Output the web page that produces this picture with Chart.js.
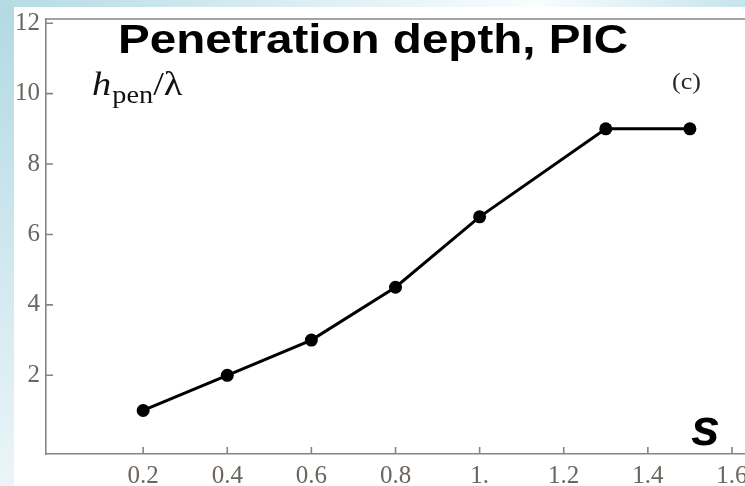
<!DOCTYPE html>
<html>
<head>
<meta charset="utf-8">
<title>Penetration depth, PIC</title>
<script src="https://cdn.jsdelivr.net/npm/chart.js@4/dist/chart.umd.min.js"></script>
<style>
  html, body { margin: 0; padding: 0; background: #fff; }
  #wrap { width: 745px; height: 486px; position: relative; }
</style>
</head>
<body>
<div id="wrap"><canvas id="depthChart" width="745" height="486"></canvas></div>
<script>
// PIC results: penetration depth vs s
const sValues = [0.2, 0.4, 0.6, 0.8, 1.0, 1.3, 1.5];
const depthValues = [1, 2, 3, 4.5, 6.5, 9, 9];
const xTickValues = [0.2, 0.4, 0.6, 0.8, 1.0, 1.2, 1.4, 1.6];
const yTickValues = [2, 4, 6, 8, 10, 12];

const axisGray = '#858585';
const labelColor = '#6b655e';

// slide background + white panel, frame line on top and inward tick marks
const decorations = {
    id: 'decorations',
    beforeDraw(chart) {
        const ctx = chart.ctx;
        const W = chart.width, H = chart.height;
        ctx.save();
        ctx.fillStyle = '#fff';
        ctx.fillRect(0, 0, W, H);
        let g = ctx.createLinearGradient(0, 0, W, 0);
        g.addColorStop(0, '#b5dbe5');
        g.addColorStop(0.72, '#f9fdfe');
        g.addColorStop(1, '#c6e4ec');
        ctx.fillStyle = g;
        ctx.fillRect(0, 0, W, 7);
        g = ctx.createLinearGradient(0, 0, 0, H);
        g.addColorStop(0, '#b2d9e3');
        g.addColorStop(1, '#ebf5f9');
        ctx.fillStyle = g;
        ctx.fillRect(0, 7, 14, H - 7);
        ctx.restore();
    },
    afterDraw(chart) {
        const ctx = chart.ctx;
        const area = chart.chartArea;
        const xs = chart.scales.x, ys = chart.scales.y;
        ctx.save();
        ctx.strokeStyle = axisGray;
        ctx.lineWidth = 1.6;
        ctx.beginPath();
        ctx.moveTo(area.left, area.top);
        ctx.lineTo(area.right, area.top);
        xs.ticks.forEach(t => {
            const px = xs.getPixelForValue(t.value);
            ctx.moveTo(px, area.bottom);
            ctx.lineTo(px, area.bottom - 7);
        });
        ys.ticks.forEach(t => {
            const py = ys.getPixelForValue(t.value);
            ctx.moveTo(area.left, py);
            ctx.lineTo(area.left + 7, py);
        });
        ctx.stroke();

        // title
        ctx.fillStyle = '#000';
        ctx.textBaseline = 'alphabetic';
        ctx.font = 'bold 41px "Liberation Sans", Arial, sans-serif';
        const title = 'Penetration depth, PIC';
        const tw = ctx.measureText(title).width;
        ctx.save();
        ctx.translate(118, 53);
        ctx.scale(510 / tw, 1);
        ctx.fillText(title, 0, 0);
        ctx.restore();

        // axis label h_pen / lambda
        ctx.save();
        ctx.translate(92, 95);
        ctx.scale(1.13, 1);
        ctx.fillStyle = '#111';
        ctx.font = 'italic 34px "Liberation Serif", "Times New Roman", serif';
        ctx.fillText('h', 0, 0);
        let x = ctx.measureText('h').width + 1;
        ctx.font = '25px "Liberation Serif", "Times New Roman", serif';
        ctx.fillText('pen', x, 8);
        x += ctx.measureText('pen').width;
        ctx.font = '34px "Liberation Serif", "Times New Roman", serif';
        ctx.fillText('/\u03bb', x, 0);
        ctx.restore();

        // panel tag
        ctx.save();
        ctx.translate(672, 89);
        ctx.scale(1.13, 1);
        ctx.fillStyle = '#2a2a2a';
        ctx.font = '23px "Liberation Serif", "Times New Roman", serif';
        ctx.fillText('(c)', 0, 0);
        ctx.restore();

        // horizontal axis name
        ctx.fillStyle = '#000';
        ctx.font = 'bold italic 52px "Liberation Sans", Arial, sans-serif';
        ctx.fillText('s', 691, 445);
        ctx.restore();
    }
};

const points = sValues.map((s, i) => ({ x: s, y: depthValues[i] }));

new Chart(document.getElementById('depthChart'), {
    type: 'line',
    data: {
        datasets: [{
            data: points,
            borderColor: '#000',
            borderWidth: 3,
            backgroundColor: '#000',
            pointRadius: 6.5,
            pointBorderWidth: 0,
            pointBackgroundColor: '#000',
            tension: 0
        }]
    },
    options: {
        responsive: false,
        animation: false,
        layout: { autoPadding: false, padding: { top: 19, right: 0, left: 0, bottom: 0 } },
        plugins: {
            legend: { display: false },
            tooltip: { enabled: false }
        },
        scales: {
            x: {
                type: 'linear',
                min: -0.031,
                max: 1.631,
                grid: { display: false, drawTicks: false },
                border: { display: true, color: axisGray, width: 1.6 },
                afterBuildTicks: scale => {
                    scale.ticks = xTickValues.map(v => ({ value: v }));
                },
                afterFit: scale => {
                    scale.height = 32;
                    scale.paddingLeft = 0;
                    scale.paddingRight = 0;
                },
                ticks: {
                    padding: 7,
                    color: labelColor,
                    font: { family: '"Liberation Serif", "Times New Roman", serif', size: 25 },
                    maxRotation: 0,
                    callback: v => (v === 1 ? '1.' : v.toFixed(1))
                }
            },
            y: {
                type: 'linear',
                min: -0.236,
                max: 12.12,
                grid: { display: false, drawTicks: false },
                border: { display: true, color: axisGray, width: 1.6 },
                afterBuildTicks: scale => {
                    scale.ticks = yTickValues.map(v => ({ value: v }));
                },
                afterFit: scale => {
                    scale.width = 46;
                    scale.paddingTop = 0;
                    scale.paddingBottom = 0;
                },
                ticks: {
                    padding: 6,
                    color: labelColor,
                    font: { family: '"Liberation Serif", "Times New Roman", serif', size: 25 },
                    callback: v => String(v)
                }
            }
        }
    },
    plugins: [decorations]
});
</script>
</body>
</html>
